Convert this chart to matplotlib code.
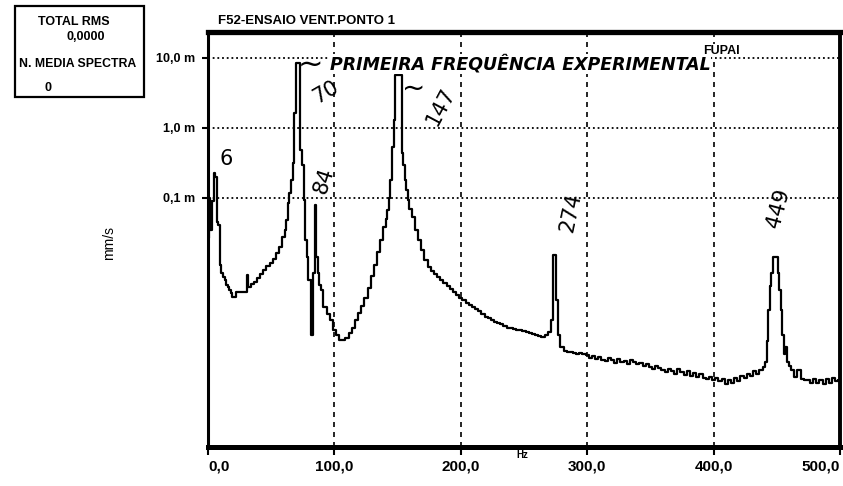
import numpy as np
import matplotlib
matplotlib.use('Agg')
import matplotlib.pyplot as plt
from matplotlib.patches import Rectangle
from matplotlib.ticker import NullLocator

# ── figure geometry (pixels) ────────────────────────────────────────────────
W, H = 843, 486
NARROW = ['Liberation Sans Narrow', 'Liberation Sans', 'DejaVu Sans']

# ── spectrum, mm/s vs Hz (read bin by bin) ─────────────────────────────────
# 0-60 Hz: low frequency skirt + 6 Hz line
freq_low = [0, 1.25, 2.5, 3.75, 5, 6.25, 7.5, 8.75, 10, 11.25, 12.5, 13.75,
            15, 16.25, 17.5, 18.75, 20, 21.25, 22.5, 25, 27.5, 30, 31.25, 32.5,
            35, 37.5, 40, 42.5, 45, 47.5, 50, 52.5, 55, 57.5, 60]
amp_low = [0.027, 0.10, 0.035, 0.09, 0.23, 0.20, 0.045, 0.041, 0.011, 0.0085,
           0.0075, 0.0067, 0.0058, 0.0054, 0.0048, 0.0044, 0.0039, 0.0039,
           0.0046, 0.0046, 0.0046, 0.0046, 0.0079, 0.0054, 0.0060, 0.0064,
           0.0072, 0.0082, 0.0094, 0.0105, 0.0117, 0.0135, 0.0165, 0.0202, 0.028]

# 61-90 Hz: first mode (70 Hz) and the 84 Hz line
freq_m1 = [61.25, 62.5, 63.75, 65, 66.25, 67.5, 68.75, 70, 71.25, 72.5, 73.75,
           75, 76.25, 77.5, 78.75, 80, 81.25, 82.5, 83.75, 85, 86.25, 87.5,
           88.75, 90]
amp_m1 = [0.035, 0.0485, 0.084, 0.117, 0.18, 0.32, 1.64, 8.5, 8.5, 8.5, 0.49,
          0.30, 0.094, 0.025, 0.0145, 0.0067, 0.0067, 0.0011, 0.0085, 0.079,
          0.0145, 0.0085, 0.0058, 0.0049]

# 92-160 Hz: valley and second mode (147 Hz)
freq_m2 = [92.5, 95, 97.5, 100, 102.5, 105, 107.5, 110, 112.5, 115, 117.5,
           120, 122.5, 125, 127.5, 130, 132.5, 135, 137.5, 140, 141.25, 142.5,
           143.75, 145, 146.25, 147.5, 148.75, 150, 151.25, 152.5, 153.75, 155,
           156.25, 157.5, 158.75, 160]
amp_m2 = [0.0028, 0.0022, 0.0018, 0.0013, 0.0011, 0.00094, 0.00094, 0.0010,
          0.00118, 0.0014, 0.0018, 0.0023, 0.0029, 0.0037, 0.0052, 0.0078,
          0.011, 0.017, 0.025, 0.038, 0.050, 0.067, 0.10, 0.18, 0.54, 1.3,
          5.7, 5.7, 5.7, 5.7, 0.44, 0.30, 0.18, 0.13, 0.094, 0.07]

# 162-279 Hz: decay and 274 Hz line
freq_m3 = [162.5, 165, 167.5, 170, 172.5, 175, 177.5, 180, 182.5, 185, 187.5,
           190, 192.5, 195, 197.5, 200, 202.5, 205, 207.5, 210, 212.5, 215,
           217.5, 220, 222.5, 225, 227.5, 230, 232.5, 235, 237.5, 240, 242.5,
           245, 247.5, 250, 252.5, 255, 257.5, 260, 262.5, 265, 267.5, 270,
           272.5, 273.75, 275, 276.25, 277.5, 278.75]
amp_m3 = [0.0535, 0.035, 0.025, 0.018, 0.013, 0.0103, 0.009, 0.0082, 0.0075,
          0.0068, 0.0061, 0.0055, 0.005, 0.0046, 0.0041, 0.0037, 0.0035,
          0.0032, 0.003, 0.0028, 0.0026, 0.0024, 0.0022, 0.002, 0.0019,
          0.0018, 0.0017, 0.00165, 0.0016, 0.0015, 0.0014, 0.0014, 0.00135,
          0.0013, 0.0013, 0.00125, 0.0012, 0.00118, 0.00115, 0.0011, 0.00105,
          0.00103, 0.0011, 0.00122, 0.0018, 0.0153, 0.0153, 0.0035, 0.0011,
          0.00075]

# 280-440 Hz: noise floor
freq_tail = [280, 282.5, 285, 287.5, 290, 292.5, 295, 297.5, 300, 302.5, 305,
             307.5, 310, 312.5, 315, 317.5, 320, 322.5, 325, 327.5, 330, 332.5,
             335, 337.5, 340, 342.5, 345, 347.5, 350, 352.5, 355, 357.5, 360,
             362.5, 365, 367.5, 370, 372.5, 375, 377.5, 380, 382.5, 385, 387.5,
             390, 392.5, 395, 397.5, 400, 402.5, 405, 407.5, 410, 412.5, 415,
             417.5, 420, 422.5, 425, 427.5, 430, 432.5, 435, 437.5, 440]
amp_tail = [0.00074, 0.00066, 0.00064, 0.00063, 0.00062, 0.00060, 0.00061,
            0.00060, 0.00058, 0.00052, 0.00056, 0.00050, 0.00054, 0.00049,
            0.00047, 0.00052, 0.00048, 0.00044, 0.00050, 0.00046, 0.00047,
            0.00043, 0.00048, 0.00045, 0.00042, 0.00044, 0.00040, 0.00043,
            0.00039, 0.00036, 0.00040, 0.00037, 0.00035, 0.00033, 0.00036,
            0.00034, 0.00031, 0.00036, 0.00033, 0.00030, 0.00034, 0.00029,
            0.00032, 0.00028, 0.00031, 0.00027, 0.00026, 0.00028, 0.00025,
            0.00027, 0.00024, 0.00026, 0.00022, 0.00025, 0.00023, 0.00027,
            0.00024, 0.00029, 0.00027, 0.00031, 0.00029, 0.00034, 0.00031,
            0.00035, 0.00039]

# 441-500 Hz: 449 Hz line
freq_hi = [441.25, 442.5, 443.75, 445, 446.25, 447.5, 448.75, 450, 451.25,
           452.5, 453.75, 455, 456.25, 457.5, 458.75, 460, 462.5, 465, 467.5,
           470, 472.5, 475, 477.5, 480, 482.5, 485, 487.5, 490, 492.5, 495,
           497.5, 500]
amp_hi = [0.00045, 0.0009, 0.0025, 0.0055, 0.0085, 0.0144, 0.0144, 0.0144,
          0.0085, 0.0048, 0.0025, 0.0011, 0.0006, 0.00075, 0.00045, 0.0004,
          0.00035, 0.00028, 0.00035, 0.00026, 0.00025, 0.00025, 0.00023,
          0.00026, 0.00023, 0.00025, 0.00022, 0.00026, 0.00023, 0.00027,
          0.00024, 0.00025]

freq = np.concatenate([freq_low, freq_m1, freq_m2, freq_m3, freq_tail, freq_hi])
amp = np.concatenate([amp_low, amp_m1, amp_m2, amp_m3, amp_tail, amp_hi])

x_ticks = [0, 100, 200, 300, 400, 500]
x_labels = ['0,0', '100,0', '200,0', '300,0', '400,0', '500,0']
y_ticks = [0.1, 1, 10]
y_labels = ['0,1 m', '1,0 m', '10,0 m']

# handwritten peak marks: (text, Hz, amplitude, rotation)
notes = [('6', 14, 0.36, 0),
         ('70', 93, 3.2, 30),
         ('84', 92, 0.175, 72),
         ('147', 184, 2.0, 62),
         ('274', 287, 0.063, 78),
         ('449', 451, 0.072, 75)]


def fx(px):
    return px / W


def fy(py):
    return 1 - py / H


fig = plt.figure(figsize=(W / 100, H / 100), dpi=100, facecolor='white')
ax = fig.add_axes([fx(208), fy(447), (840 - 208) / W, (447 - 32) / H])

ax.plot(freq, amp, color='black', lw=1.6, drawstyle='steps-mid', zorder=3)

ax.set_xlim(0, 500)
ax.set_yscale('log')
ax.set_ylim(2.77e-5, 23.5)

# dotted decades, dashed frequency grid
for y in y_ticks:
    ax.axhline(y, color='black', lw=1.3, ls=(0, (1, 1.6)), zorder=1)
for x in x_ticks[1:-1]:
    ax.axvline(x, color='black', lw=1.2, ls=(0, (3, 3)), zorder=1)

ax.set_xticks(x_ticks)
ax.set_xticklabels(x_labels, family=NARROW, fontsize=11, weight='bold')
xl = ax.get_xticklabels()
xl[0].set_ha('left')
xl[-1].set_ha('right')
ax.set_yticks(y_ticks)
ax.set_yticklabels(y_labels, family=NARROW, fontsize=9, weight='bold')
ax.yaxis.set_minor_locator(NullLocator())
ax.tick_params(axis='x', direction='out', length=6, width=1.5, pad=3)
ax.tick_params(axis='y', direction='out', length=4.5, width=1.5, pad=5)

ax.spines['left'].set_linewidth(2.2)
ax.spines['bottom'].set_linewidth(3.6)
ax.spines['top'].set_linewidth(3.8)
ax.spines['right'].set_linewidth(2.8)

for txt, f, a, rot in notes:
    ax.text(f, a, txt, fontsize=15, rotation=rot, ha='center', va='center',
            zorder=4)
ax.text(81, 7.9, '~', fontsize=22, ha='center', va='center', zorder=4)
ax.text(163, 3.6, '~', fontsize=20, ha='center', va='center', zorder=4)

# header, info box and axis captions
fig.text(fx(218), fy(21), 'F52-ENSAIO VENT.PONTO 1', ha='left', va='center',
         fontsize=9.5, weight='bold', family=NARROW)
fig.text(fx(520), fy(64), 'PRIMEIRA FREQUÊNCIA EXPERIMENTAL', ha='center',
         va='center', fontsize=12.5, weight='bold', style='italic',
         bbox=dict(facecolor='white', edgecolor='none', pad=0.6))
fig.text(fx(721), fy(51), 'FUPAI', ha='center', va='center', fontsize=9,
         weight='bold', family=NARROW,
         bbox=dict(facecolor='white', edgecolor='none', pad=0.4))

fig.add_artist(Rectangle((fx(15), fy(97)), 129 / W, 91 / H,
                         transform=fig.transFigure, fill=False, lw=1.6,
                         ec='black'))
fig.text(fx(74), fy(22), 'TOTAL RMS', ha='center', va='center', fontsize=9,
         weight='bold', family=NARROW)
fig.text(fx(86), fy(37), '0,0000', ha='center', va='center', fontsize=9,
         weight='bold', family=NARROW)
fig.text(fx(78), fy(64), 'N. MEDIA SPECTRA', ha='center', va='center',
         fontsize=8.8, weight='bold', family=NARROW)
fig.text(fx(48), fy(88), '0', ha='center', va='center', fontsize=9,
         weight='bold', family=NARROW)

fig.text(fx(109), fy(243), 'mm/s', rotation=90, ha='center', va='center',
         fontsize=10, family=NARROW)
fig.text(fx(522), fy(455), 'Hz', ha='center', va='center', fontsize=7,
         weight='bold', family=NARROW)

fig.savefig('out.png', dpi=100, facecolor='white')
